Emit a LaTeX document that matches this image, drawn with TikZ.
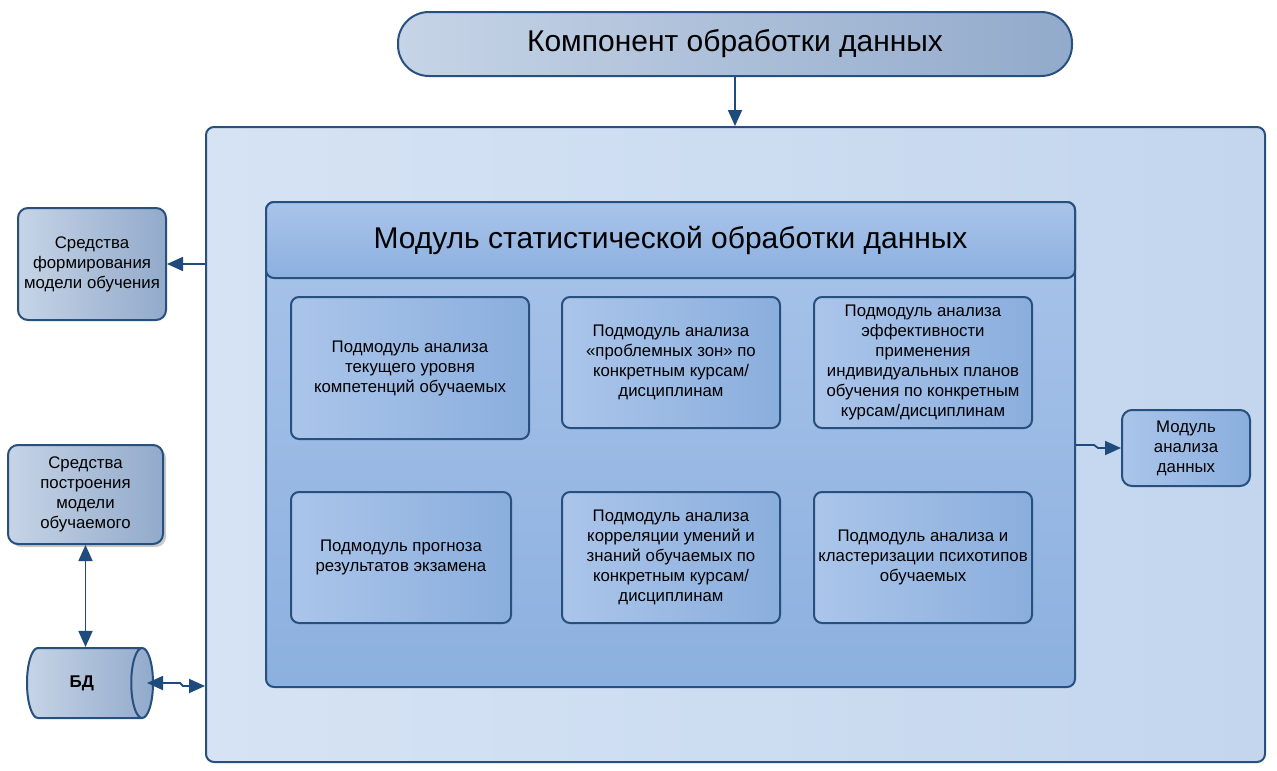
\documentclass[tikz,border=0pt]{standalone}
\usepackage{fontspec}
\setmainfont{Liberation Sans}
\usetikzlibrary{arrows.meta,shapes.geometric,shadows}
\definecolor{bord}{HTML}{27507F}
\definecolor{arrc}{HTML}{1F4A7E}
\definecolor{outL}{HTML}{D6E3F4}
\definecolor{outR}{HTML}{C3D6EE}
\definecolor{modT}{HTML}{A9C4EA}
\definecolor{modB}{HTML}{8CB0DF}
\definecolor{subL}{HTML}{ABC5EA}
\definecolor{subR}{HTML}{8AAEDD}
\definecolor{grL}{HTML}{C6D4E6}
\definecolor{grR}{HTML}{92AACB}
\begin{document}
\begin{tikzpicture}[x=1pt,y=-1pt,
  bx/.style={draw=bord, line width=2pt, rounded corners=8pt, inner sep=2pt, align=center,
    font=\fontsize{16.8}{20}\selectfont},
  subbox/.style={bx, left color=subL, right color=subR},
  graybox/.style={bx, left color=grL, right color=grR, rounded corners=10pt},
  arr/.style={draw=arrc, line width=1.8pt, -{Triangle[length=16pt,width=14pt]}},
  dbl/.style={draw=arrc, line width=1.8pt, {Triangle[length=16pt,width=14pt]}-{Triangle[length=16pt,width=14pt]}}
]
\useasboundingbox (0,0) rectangle (1277,771);

% outer container
\node[bx, left color=outL, right color=outR, minimum width=1059pt, minimum height=635pt] (outer) at (735.5,444.5) {};

% top pill
\node[bx, left color=grL, right color=grR, rounded corners=31pt, minimum width=674pt, minimum height=64pt,
  font=\fontsize{30}{34}\selectfont] (pill) at (735,44) {Компонент обработки данных};

% module
\node[bx, top color=modT, bottom color=modB, minimum width=809pt, minimum height=485pt] (module) at (670.5,444.5) {};
\node[bx, top color=modT, bottom color=modB, minimum width=809pt, minimum height=76pt,
  font=\fontsize{30}{34}\selectfont] (header) at (670.5,240) {Модуль статистической обработки данных};

% sub-modules
\node[subbox, minimum width=238pt, minimum height=142pt] (s1) at (410,368)
  {Подмодуль анализа\\текущего уровня\\компетенций обучаемых};
\node[subbox, minimum width=218pt, minimum height=131pt] (s2) at (671,362.5)
  {Подмодуль анализа\\«проблемных зон» по\\конкретным курсам/\\дисциплинам};
\node[subbox, minimum width=218pt, minimum height=131pt] (s3) at (923,362.5)
  {Подмодуль анализа\\эффективности\\применения\\индивидуальных планов\\обучения по конкретным\\курсам/дисциплинам};
\node[subbox, minimum width=220pt, minimum height=131pt] (s4) at (401,557.5)
  {Подмодуль прогноза\\результатов экзамена};
\node[subbox, minimum width=218pt, minimum height=131pt] (s5) at (671,557.5)
  {Подмодуль анализа\\корреляции умений и\\знаний обучаемых по\\конкретным курсам/\\дисциплинам};
\node[subbox, minimum width=218pt, minimum height=131pt] (s6) at (923,557.5)
  {Подмодуль анализа и\\кластеризации психотипов\\обучаемых};

% right box
\node[subbox, rounded corners=10pt, minimum width=128pt, minimum height=76pt] (right) at (1186,448)
  {Модуль\\анализа\\данных};

% left boxes
\node[graybox, minimum width=148pt, minimum height=112pt] (L1) at (92,264)
  {Средства\\формирования\\модели обучения};
\node[graybox, minimum width=155pt, minimum height=99pt,
  drop shadow={shadow xshift=3pt, shadow yshift=-3pt, fill=black!35, opacity=0.6}] (L2) at (85.5,494.5)
  {Средства\\построения\\модели\\обучаемого};

% database
\node[cylinder, shape border rotate=0, aspect=1.0, draw=bord, line width=2pt,
  left color=grL, right color=grR, minimum height=126pt, minimum width=70pt, anchor=west,
  font=\fontsize{17}{20}\selectfont\bfseries] (DB) at (26,683) {БД};

% connectors
\draw[arr] (pill.south) -- (pill.south |- outer.north);
\draw[arr] (L1.east -| outer.west) -- (L1.east);
\draw[dbl] (L2.south) -- (L2.south |- DB.north);
\path ([xshift=-7pt]DB.east) coordinate (d0) ++(33,0) coordinate (d1) ++(3,3) coordinate (d2);
\draw[dbl] (d0) -- (d1) -- (d2) -- (d2 -| outer.west);
\path ([yshift=3pt]right.west -| module.east) coordinate (r0) ++(18,0) coordinate (r1) ++(4,3) coordinate (r2);
\draw[arr] (r0) -- (r1) -- (r2) -- (right.west);
\end{tikzpicture}
\end{document}
